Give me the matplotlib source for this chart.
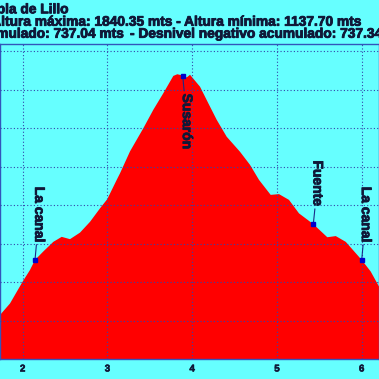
import matplotlib
matplotlib.use('Agg')
import matplotlib.pyplot as plt
import matplotlib.patheffects as pe

# Elevation profile (distance in km, altitude in m)
distance_km = [1.70, 1.732, 1.850, 2.000, 2.086, 2.145, 2.243, 2.361, 2.460, 2.558,
               2.676, 2.794, 2.912, 2.998, 3.109, 3.148, 3.266, 3.423, 3.541, 3.659,
               3.777, 3.824, 3.888, 3.935, 3.974, 4.092, 4.190, 4.289, 4.407, 4.564,
               4.682, 4.788, 4.926, 5.024, 5.142, 5.260, 5.429, 5.594, 5.694, 5.812,
               6.000, 6.106, 6.204, 6.25]
altitude_m = [1205, 1215, 1245, 1302, 1332, 1358, 1380, 1405, 1418, 1412,
              1429, 1457, 1492, 1516, 1566, 1583, 1640, 1700, 1748, 1791,
              1836, 1840.35, 1837, 1832, 1839, 1808, 1765, 1722, 1678, 1639,
              1605, 1566, 1527, 1529, 1514, 1479, 1451, 1417, 1420, 1405,
              1358, 1328, 1289, 1275]

# Waypoints
wp_names = ['La canal', 'Susarón', 'Fuente', 'La canal']
wp_km = [2.145, 3.888, 5.429, 6.000]
wp_alt = [1358, 1837, 1451, 1358]

title_name = 'Puebla de Lillo'
title_alt = 'Altura máxima: 1840.35 mts - Altura mínima: 1137.70 mts'
title_pos = 'Desnivel positivo acumulado: 737.04 mts'
title_neg = '- Desnivel negativo acumulado: 737.34 mts'

bg = '#66ffff'
ink = '#101838'
grid_color = '#3344aa'
heavy = [pe.withStroke(linewidth=0.6, foreground=ink)]

fig = plt.figure(figsize=(3.79, 3.79), dpi=100, facecolor=bg)
# plot area from y=44 px down to y=359 px, wider than the canvas on both sides
ax = fig.add_axes([0, 0.052, 1, 0.832])
ax.set_facecolor(bg)

ax.fill_between(distance_km, altitude_m, 1000, color='#ff0000', linewidth=0)

ax.set_xlim(1.732, 6.204)
ax.set_ylim(1100, 1919)
ax.set_xticks([2, 3, 4, 5, 6])
ax.set_yticks(range(1100, 1901, 100))
ax.set_yticklabels([])
ax.tick_params(axis='both', length=0)
ax.tick_params(axis='x', pad=3, labelsize=7, labelcolor=ink)
for lbl in ax.get_xticklabels():
    lbl.set_fontweight('bold')
    lbl.set_family('Liberation Sans')
    lbl.set_path_effects([pe.withStroke(linewidth=0.4, foreground=ink)])

ax.set_axisbelow(False)
ax.grid(True, color=grid_color, linestyle=(0, (1, 2)), linewidth=0.8)
for sp in ax.spines.values():
    sp.set_color('#3355bb')
    sp.set_linewidth(1)

# Waypoint markers and vertical labels
for name, km, alt in zip(wp_names, wp_km, wp_alt):
    ax.plot(km, alt, 's', color='#0000cc', markersize=2.5, zorder=5)
    below = alt > 1800
    ax.annotate(name, xy=(km, alt), xytext=(3, -13 if below else 13),
                textcoords='offset points', rotation=-90,
                ha='center', va='top' if below else 'bottom',
                fontsize=10, fontweight='bold', family='Liberation Sans',
                color=ink, path_effects=heavy,
                arrowprops=dict(arrowstyle='-', color='#1a2a88', lw=0.8,
                                shrinkA=0, shrinkB=0))

# Title lines (partly cut off, as in the original)
tkw = dict(fontsize=9.9, fontweight='bold', family='Liberation Sans', color=ink,
           va='baseline', path_effects=heavy)
fig.text(69 / 379, 1 - 13.3 / 379, title_name, ha='right', **tkw)
fig.text(362 / 379, 1 - 25.7 / 379, title_alt, ha='right', **tkw)
fig.text(125 / 379, 1 - 37.7 / 379, title_pos, ha='right', **tkw)
fig.text(130 / 379, 1 - 37.7 / 379, title_neg, ha='left', **tkw)

fig.savefig('out.png', dpi=100, facecolor=bg)
